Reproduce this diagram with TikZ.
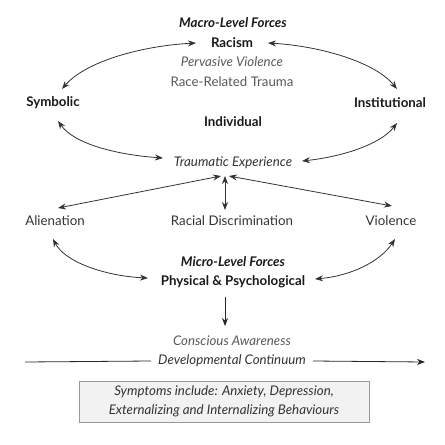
\documentclass[tikz,border=0pt]{standalone}
\usepackage{fontspec}
\setmainfont{Lato}
\usetikzlibrary{arrows.meta,positioning}

\begin{document}
\begin{tikzpicture}[x=1pt,y=1pt,
	txt/.style={inner sep=1pt, text=black!80, font=\fontsize{13.3}{15}\selectfont},
	bold/.style={txt, text=black!90, font=\fontsize{13.3}{15}\selectfont\bfseries},
	boldit/.style={txt, text=black!90, font=\fontsize{13.3}{15}\selectfont\bfseries\itshape},
	ital/.style={txt, font=\fontsize{13.3}{15}\selectfont\itshape},
	greyit/.style={ital, text=black!65},
	grey/.style={txt, text=black!65},
	link/.style={draw=black!80, line width=0.8pt, {Stealth[length=8pt,width=6pt]}-{Stealth[length=8pt,width=6pt]}},
	oneway/.style={draw=black!85, line width=0.8pt, -{Stealth[length=8pt,width=6pt]}},
	symbox/.style={draw=black!40, fill=black!5, line width=1pt, minimum width=290pt, minimum height=41pt, align=center, inner sep=2pt, text=black!80, font=\fontsize{13.3}{18.5}\selectfont\itshape}]
	%%%%% FRAME %%%%%
	\useasboundingbox (0,0) rectangle (445,-445);
	
	%%%%% MACRO LEVEL %%%%%
	\node[boldit] (macro) at (233,-23) {Macro-Level Forces};
	\node[bold] (racism) at (232,-43) {Racism};
	\node[greyit] (pervasive) at (232,-62) {Pervasive Violence};
	\node[grey] (trauma) at (232,-82) {Race-Related Trauma};
	\node[bold] (symbolic) at (53,-103) {Symbolic};
	\node[bold] (institutional) at (390,-103) {Institutional};
	\node[bold] (individual) at (233,-122) {Individual};
	\node[ital] (traumatic) at (233,-163) {Traumatic Experience};
	
	%%%%% MICRO LEVEL %%%%%
	\node[txt] (alienation) at (55,-221) {Alienation};
	\node[txt] (discrim) at (232,-221) {Racial Discrimination};
	\node[txt] (violence) at (391,-221) {Violence};
	\node[boldit] (micro) at (233,-262) {Micro-Level Forces};
	\node[bold] (physical) at (233,-282) {Physical \& Psychological};
	
	%%%%% CONTINUUM %%%%%
	\node[greyit] (conscious) at (232,-341) {Conscious Awareness};
	\node[ital] (continuum) at (232,-361) {Developmental Continuum};
	\coordinate (cstart) at (25,-362);
	\coordinate (cend) at (425,-362);
	\node[symbox] (symptoms) at (224,-401.5) {Symptoms include: Anxiety, Depression,\\Externalizing and Internalizing Behaviours};
	
	%%%%% ARROWS %%%%%
	\draw[link] ([shift={(-36,0)}]racism.center) .. controls +(-56,-3) and +(23,27) .. ([shift={(9,14)}]symbolic.center);
	\draw[link] ([shift={(36,0)}]racism.center) .. controls +(52,-3) and +(-22,27) .. ([shift={(7,14)}]institutional.center);
	\draw[link] ([shift={(5,-18)}]symbolic.center) .. controls +(17,-24) and +(-43,3) .. ([shift={(-70,5)}]traumatic.center);
	\draw[link] ([shift={(7,-20)}]institutional.center) .. controls +(-17,-22) and +(38,4) .. ([shift={(69,2)}]traumatic.center);
	
	\draw[link] ([shift={(-12,-13)}]traumatic.center) -- ([shift={(3,13)}]alienation.center);
	\draw[link] ([shift={(-8,-13)}]traumatic.center) -- ([shift={(-7,11)}]discrim.center);
	\draw[link] ([shift={(-4,-13)}]traumatic.center) -- ([shift={(1,15)}]violence.center);
	
	\draw[link] ([shift={(-2,-18)}]alienation.center) .. controls +(12,-23) and +(-43,2) .. ([shift={(-85,4)}]physical.center);
	\draw[link] ([shift={(4,-18)}]violence.center) .. controls +(-15,-23) and +(35,3) .. ([shift={(82,3)}]physical.center);
	
	\draw[oneway] ([shift={(-8,-15)}]physical.center) -- ([shift={(-7,15)}]conscious.center);
	
	\draw[draw=black!85, line width=0.8pt] (cstart) -- ([xshift=-6pt]continuum.west);
	\draw[oneway] ([xshift=6pt]continuum.east) -- (cend);
	
	%%%%% END %%%%%
\end{tikzpicture}
\end{document}
